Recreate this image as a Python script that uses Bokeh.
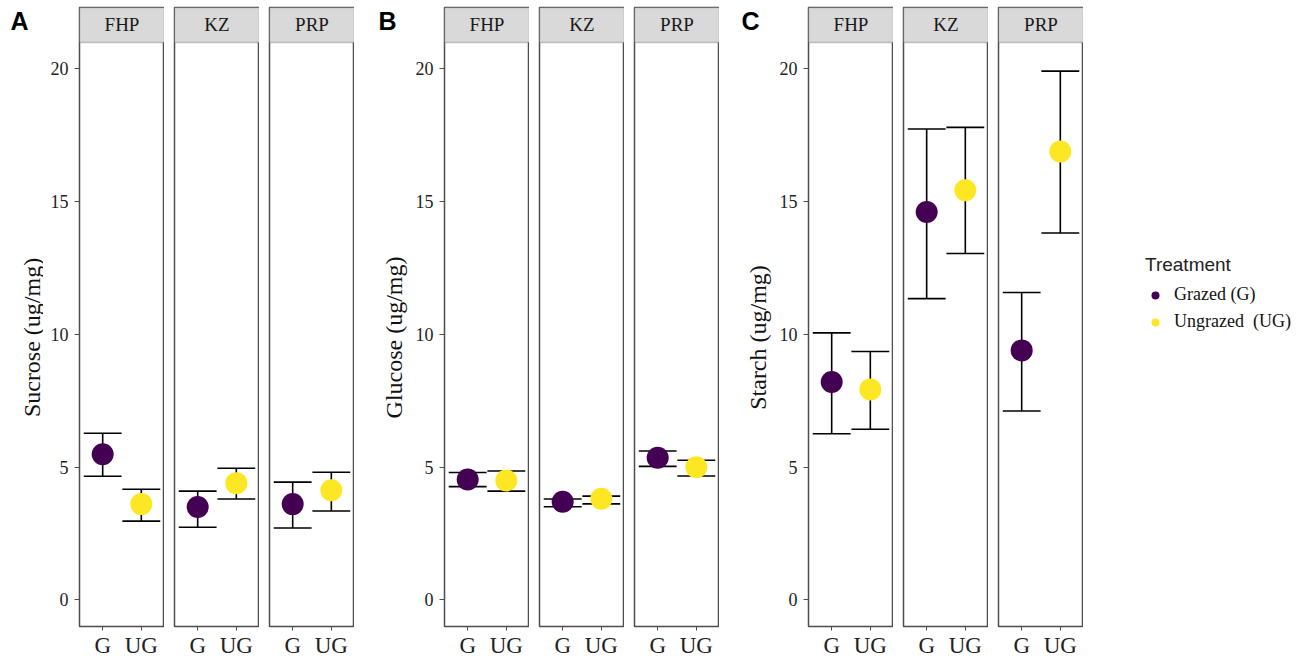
import math
from bokeh.plotting import figure
from bokeh.layouts import row
from bokeh.models import (Range1d, FixedTicker, BoxAnnotation, Label, Legend,
                          LegendItem, ColumnDataSource)
from bokeh.embed import file_html
from bokeh.resources import INLINE

# ---------------- data ----------------
sites = ["FHP", "KZ", "PRP"]
treatments = ["G", "UG"]
treatment_labels = ["Grazed (G)", "Ungrazed  (UG)"]
treatment_colors = ["#440154", "#FDE725"]

# order within each list: FHP-G, FHP-UG, KZ-G, KZ-UG, PRP-G, PRP-UG
sucrose_mean = [5.49, 3.61, 3.50, 4.40, 3.61, 4.13]
sucrose_lower = [4.66, 2.97, 2.74, 3.80, 2.71, 3.35]
sucrose_upper = [6.28, 4.17, 4.10, 4.96, 4.44, 4.81]

glucose_mean = [4.54, 4.50, 3.70, 3.81, 5.36, 5.00]
glucose_lower = [4.27, 4.10, 3.51, 3.62, 5.03, 4.67]
glucose_upper = [4.80, 4.86, 3.80, 3.91, 5.61, 5.26]

starch_mean = [8.21, 7.93, 14.61, 15.43, 9.40, 16.89]
starch_lower = [6.26, 6.43, 11.35, 13.05, 7.12, 13.82]
starch_upper = [10.06, 9.36, 17.74, 17.80, 11.58, 19.92]

panel_letters = ["A", "B", "C"]
y_titles = ["Sucrose  (ug/mg)", "Glucose  (ug/mg)", "Starch  (ug/mg)"]
y_ticks = [0, 5, 10, 15, 20]
legend_title = "Treatment"

panels = [
    (sucrose_mean, sucrose_lower, sucrose_upper),
    (glucose_mean, glucose_lower, glucose_upper),
    (starch_mean, starch_lower, starch_upper),
]

# ---------------- layout constants (pixels) ----------------
W_TOTAL = 1306
H = 660
TOP = 7
BOTTOM = 33
FRAME_W = 85
GAP = 10
AXIS_W = 36                 # left border of first facet (tick labels)
GUTTER_W = [43, 54, 53]     # letter + axis title column of each panel
LETTER_X = [10, 24, 22]     # within gutter
TITLE_X = [31, 39, 38]      # within gutter (centre of rotated title)
LETTER_Y = 21
STRIP_PX = 35
frame_h = H - TOP - BOTTOM
unit_px = (frame_h - STRIP_PX) / 22.0
Y_LO, Y_DATA_HI = -1.0, 21.0
y_top = Y_DATA_HI + STRIP_PX / unit_px
data_mid_px = TOP + STRIP_PX + (frame_h - STRIP_PX) / 2.0

SERIF = "Liberation Serif"
SANS = "Liberation Sans"
OUTLINE = "#4d4d4d"
TXT = "#222222"
CAP_W = 0.98


def bare(p):
    p.xgrid.visible = False
    p.ygrid.visible = False
    p.background_fill_color = "white"
    p.border_fill_color = "white"


figs = []
for pi_, (means, lows, ups) in enumerate(panels):
    # gutter with panel letter and y-axis title
    gw = GUTTER_W[pi_]
    g = figure(width=gw, height=H, output_backend="svg", toolbar_location=None,
               x_range=Range1d(0, gw), y_range=Range1d(TOP + frame_h, TOP),
               x_axis_location=None, y_axis_location=None,
               min_border_left=0, min_border_right=0,
               min_border_top=TOP, min_border_bottom=BOTTOM)
    bare(g)
    g.outline_line_color = None
    g.add_layout(Label(x=LETTER_X[pi_], y=LETTER_Y, text=panel_letters[pi_],
                       text_align="left", text_baseline="middle",
                       text_font=SANS, text_font_style="bold",
                       text_font_size="25px", text_color="black"))
    g.add_layout(Label(x=TITLE_X[pi_], y=data_mid_px, text=y_titles[pi_],
                       angle=math.pi / 2, text_align="center",
                       text_baseline="middle", text_font=SERIF,
                       text_font_size="24px", text_color="#111111"))
    figs.append(g)

    for si, site in enumerate(sites):
        first = si == 0
        left = AXIS_W if first else GAP
        p = figure(width=left + FRAME_W, height=H, output_backend="svg",
                   toolbar_location=None, title=None,
                   x_range=Range1d(0.4, 2.6), y_range=Range1d(Y_LO, y_top),
                   y_axis_location="left" if first else None,
                   min_border_left=left, min_border_right=0,
                   min_border_top=TOP, min_border_bottom=BOTTOM)
        bare(p)
        p.outline_line_color = OUTLINE
        p.outline_line_width = 1.5

        xs = [i + 1 for i in range(len(treatments))]
        p.xaxis.ticker = FixedTicker(ticks=xs)
        p.xaxis.major_label_overrides = {x: t for x, t in zip(xs, treatments)}
        p.xaxis.axis_line_color = None
        p.xaxis.major_tick_in = 0
        p.xaxis.major_tick_out = 4
        p.xaxis.major_tick_line_color = OUTLINE
        p.xaxis.minor_tick_line_color = None
        p.xaxis.major_label_standoff = 2
        p.xaxis.major_label_text_font = SERIF
        p.xaxis.major_label_text_font_size = "23px"
        p.xaxis.major_label_text_color = TXT

        if first:
            p.yaxis.ticker = FixedTicker(ticks=y_ticks)
            p.yaxis.axis_line_color = None
            p.yaxis.major_tick_in = 0
            p.yaxis.major_tick_out = 5
            p.yaxis.major_tick_line_color = OUTLINE
            p.yaxis.minor_tick_line_color = None
            p.yaxis.major_label_standoff = 6
            p.yaxis.major_label_text_font = SERIF
            p.yaxis.major_label_text_font_size = "18px"
            p.yaxis.major_label_text_color = TXT

        # facet strip
        p.add_layout(BoxAnnotation(bottom=Y_DATA_HI, fill_color="#D9D9D9",
                                   fill_alpha=1.0, line_color=OUTLINE,
                                   line_width=1.5, level="underlay"))
        p.add_layout(Label(x=1.5, y=Y_DATA_HI + (y_top - Y_DATA_HI) / 2,
                           text=site, text_align="center", text_baseline="middle",
                           text_font=SERIF, text_font_size="19px",
                           text_color="#1a1a1a"))

        idx = [si * 2 + k for k in range(len(treatments))]
        src = ColumnDataSource(dict(
            x=xs,
            m=[means[i] for i in idx],
            lo=[lows[i] for i in idx],
            hi=[ups[i] for i in idx],
            xl=[x - CAP_W / 2 for x in xs],
            xr=[x + CAP_W / 2 for x in xs],
            c=treatment_colors,
        ))
        p.segment(x0="x", y0="lo", x1="x", y1="hi", source=src,
                  line_color="black", line_width=1.6)
        p.segment(x0="xl", y0="hi", x1="xr", y1="hi", source=src,
                  line_color="black", line_width=1.6)
        p.segment(x0="xl", y0="lo", x1="xr", y1="lo", source=src,
                  line_color="black", line_width=1.6)
        p.scatter(x="x", y="m", source=src, size=22, fill_color="c",
                  line_color=None)
        figs.append(p)

used_w = sum(f.width for f in figs)
leg_w = W_TOTAL - used_w
lf = figure(width=leg_w, height=H, output_backend="svg", toolbar_location=None,
            x_range=Range1d(0, 1), y_range=Range1d(0, 1),
            x_axis_location=None, y_axis_location=None,
            min_border_left=0, min_border_right=0, min_border_top=TOP,
            min_border_bottom=BOTTOM)
bare(lf)
lf.outline_line_color = None
items = []
for lab, col in zip(treatment_labels, treatment_colors):
    # off-screen point: only its legend swatch is seen
    r = lf.scatter(x=[-5], y=[-5], size=7, fill_color=col, line_color=None)
    items.append(LegendItem(label=lab, renderers=[r]))
leg = Legend(items=items, location=(62, 294), title=legend_title,
             title_text_font=SANS, title_text_font_size="19px",
             title_text_font_style="normal", title_text_color="#222222",
             title_standoff=8,
             label_text_font=SERIF, label_text_font_size="18px",
             label_text_color="#111111", label_standoff=9,
             glyph_width=20, glyph_height=20, label_height=20, spacing=6,
             padding=0, margin=0, border_line_color=None,
             background_fill_alpha=0)
lf.add_layout(leg, "center")

layout = row(*figs, lf, spacing=0)
open("out.html", "w").write(file_html(layout, INLINE))
